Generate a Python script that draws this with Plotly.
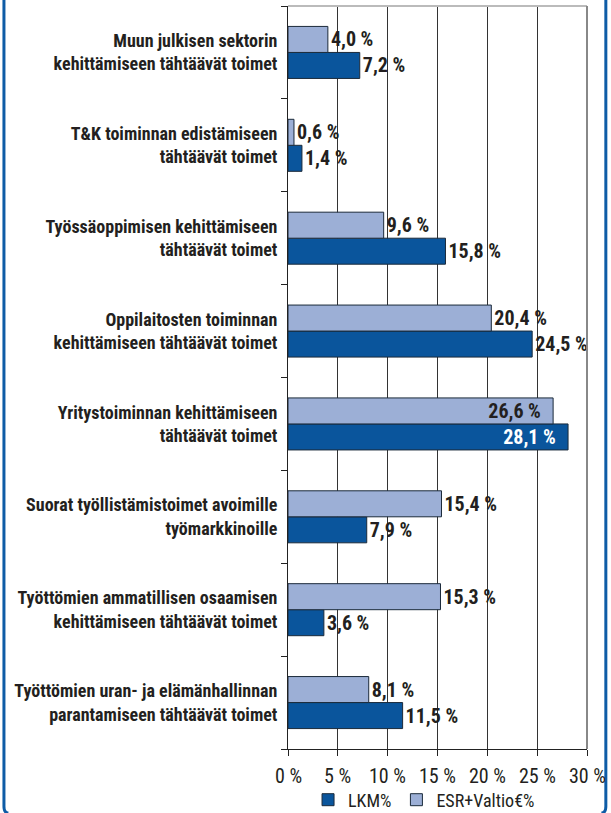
import plotly.graph_objects as go

categories = [
    "Muun julkisen sektorin<br>kehittämiseen tähtäävät toimet",
    "T&K toiminnan edistämiseen<br>tähtäävät toimet",
    "Työssäoppimisen kehittämiseen<br>tähtäävät toimet",
    "Oppilaitosten toiminnan<br>kehittämiseen tähtäävät toimet",
    "Yritystoiminnan kehittämiseen<br>tähtäävät toimet",
    "Suorat työllistämistoimet avoimille<br>työmarkkinoille",
    "Työttömien ammatillisen osaamisen<br>kehittämiseen tähtäävät toimet",
    "Työttömien uran- ja elämänhallinnan<br>parantamiseen tähtäävät toimet",
]
lkm = [7.2, 1.4, 15.8, 24.5, 28.1, 7.9, 3.6, 11.5]
esr = [4.0, 0.6, 9.6, 20.4, 26.6, 15.4, 15.3, 8.1]
tick_vals = [0, 5, 10, 15, 20, 25, 30]
tick_text = ["0 %", "5 %", "10 %", "15 %", "20 %", "25 %", "30 %"]

FONT = "Roboto Condensed, Open Sans Condensed, DejaVu Sans Condensed, sans-serif"
TXT = "#231F20"
DARK = "#0A559C"
LIGHT = "#9CAFD6"
FRAME = "#0E5CA6"

cats = categories[::-1]


def fmt(v):
    return f"{v:.1f} %".replace(".", ",")


def build(vals, inside_color):
    vals = vals[::-1]
    pos = ["inside" if v > 26 else "outside" for v in vals]
    cols = [inside_color if v > 26 else TXT for v in vals]
    texts = [fmt(v) + ("\u00a0\u00a0" if v > 26 else "") for v in vals]
    return vals, texts, pos, cols


fig = go.Figure()
v, t, p, c = build(lkm, "white")
fig.add_trace(go.Bar(
    y=cats, x=v, orientation="h", name="LKM%", text=t, textposition=p,
    insidetextanchor="end", constraintext="none",
    textfont=dict(color=c, size=20, family=FONT, weight="bold"),
    marker=dict(color=DARK, line=dict(color="#1B2A3A", width=1)),
    cliponaxis=False,
))
v, t, p, c = build(esr, TXT)
fig.add_trace(go.Bar(
    y=cats, x=v, orientation="h", name="ESR+Valtio€%", text=t, textposition=p,
    insidetextanchor="end", constraintext="none",
    textfont=dict(color=c, size=20, family=FONT, weight="bold"),
    marker=dict(color=LIGHT, line=dict(color="#1B2A3A", width=1)),
    cliponaxis=False,
))

for val, lab in zip(tick_vals, tick_text):
    fig.add_annotation(x=val, y=0, xref="x", yref="paper", yshift=-27,
                       xanchor="center", yanchor="middle", showarrow=False, text=lab,
                       font=dict(size=20, family=FONT, color=TXT, weight="normal"))

fig.update_layout(
    width=611, height=813,
    margin=dict(l=288, r=24, t=6, b=64),
    barmode="group", bargap=0.44, bargroupgap=0,
    plot_bgcolor="white", paper_bgcolor="white",
    font=dict(family=FONT, size=18, color=TXT, weight="bold"),
    showlegend=True,
    legend=dict(orientation="h", x=0.455, xanchor="center",
                yref="container", y=0.016, yanchor="middle",
                font=dict(size=18, family=FONT, weight="normal"), itemwidth=30,
                traceorder="normal"),
    xaxis=dict(range=[0, 30], tickvals=tick_vals, showticklabels=False,
               showgrid=True, gridcolor="#333333", gridwidth=1,
               showline=True, linecolor="#222222", linewidth=1,
               ticks="outside", ticklen=6, tickcolor="#222222", zeroline=False),
    yaxis=dict(type="category", categoryorder="array", categoryarray=cats,
               tickson="boundaries", ticks="outside", ticklen=6, tickcolor="#222222",
               showline=True, linecolor="#222222", linewidth=1,
               showgrid=False, tickfont=dict(size=18, family=FONT, weight="bold"),
               ticklabelstandoff=6, automargin=False),
    shapes=[
        dict(type="line", xref="paper", yref="paper", x0=0, x1=1, y0=1, y1=1,
             line=dict(color="#BBBBBB", width=2)),
        dict(type="line", xref="paper", yref="paper", x0=1, x1=1, y0=0, y1=1,
             line=dict(color="#888888", width=2)),
        dict(type="path", xref="paper", yref="paper",
             path="M -0.950 1.01 L -0.950 -0.077 Q -0.950 -0.0861 -0.935 -0.0861",
             line=dict(color=FRAME, width=3)),
        dict(type="path", xref="paper", yref="paper",
             path="M 1.063 1.01 L 1.063 -0.077 Q 1.063 -0.0861 1.048 -0.0861",
             line=dict(color=FRAME, width=3)),
    ],
)

fig.write_html("out.html", config={"displayModeBar": False},
               post_script="document.body.style.margin='0';")
